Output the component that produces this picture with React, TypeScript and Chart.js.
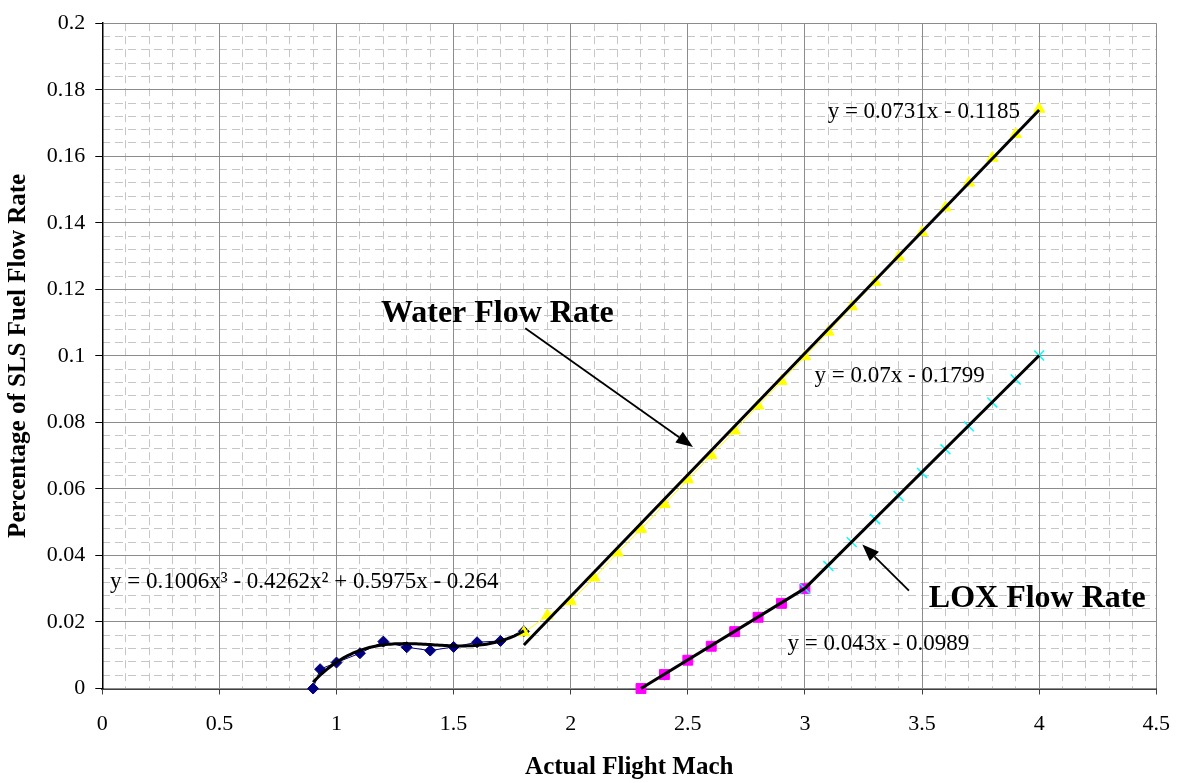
import { useEffect, useRef } from "react";
import { Chart, registerables } from "chart.js";

Chart.register(...registerables);

const FONT = '"Liberation Serif", "Times New Roman", serif';

// Axis tick labels
const xTickLabels = ["0", "0.5", "1", "1.5", "2", "2.5", "3", "3.5", "4", "4.5"];
const yTickLabels = ["0", "0.02", "0.04", "0.06", "0.08", "0.1", "0.12", "0.14", "0.16", "0.18", "0.2"];

// Low-speed fuel flow (Mach 0.9 - 1.8)
const lowMach = [0.9, 0.93, 1.0, 1.1, 1.2, 1.3, 1.4, 1.5, 1.6, 1.7, 1.8];
const lowRate = [0, 0.0058, 0.0078, 0.0106, 0.0141, 0.0124, 0.0114, 0.0125, 0.0139, 0.0143, 0.0172];

// Water flow rate
const waterMach = [1.8, 1.9, 2.0, 2.1, 2.2, 2.3, 2.4, 2.5, 2.6, 2.7, 2.8, 2.9, 3.0, 3.1, 3.2, 3.3, 3.4, 3.5, 3.6, 3.7, 3.8, 3.9, 4.0];
const waterRate = [0.0168, 0.0219, 0.0262, 0.0333, 0.0408, 0.0479, 0.0554, 0.0628, 0.0701, 0.0775, 0.085, 0.0924, 0.0998, 0.1072, 0.1148, 0.1222, 0.1297, 0.1371, 0.1446, 0.152, 0.1595, 0.1666, 0.1742];

// LOX flow rate, lower segment
const loxLowMach = [2.3, 2.4, 2.5, 2.6, 2.7, 2.8, 2.9, 3.0];
const loxLowRate = [0, 0.0042, 0.0085, 0.0127, 0.0171, 0.0214, 0.0256, 0.03];

// LOX flow rate, upper segment
const loxHighMach = [3.0, 3.1, 3.2, 3.3, 3.4, 3.5, 3.6, 3.7, 3.8, 3.9, 4.0];
const loxHighRate = [0.03, 0.0368, 0.044, 0.0509, 0.0579, 0.0648, 0.0719, 0.0788, 0.086, 0.0929, 0.1001];

// Trendline coefficients, highest power first
const lowFit = [0.1006, -0.4262, 0.5975, -0.264];
const waterFit = [0.0731, -0.1185];
const loxLowFit = [0.043, -0.0989];
const loxHighFit = [0.07, -0.1799];

// Trendline equation labels (anchored in data units, left/baseline)
const equationLabels = [
  { text: "y = 0.0731x - 0.1185", x: 3.097, y: 0.1714 },
  { text: "y = 0.07x - 0.1799", x: 3.041, y: 0.092 },
  { text: "y = 0.043x - 0.0989", x: 2.926, y: 0.0115 },
  { text: "y = 0.1006x\u00B3 - 0.4262x\u00B2 + 0.5975x - 0.264", x: 0.033, y: 0.0303 },
];

// Callout titles and their arrows (data units)
const calloutLabels = [
  { text: "Water Flow Rate", x: 1.19, y: 0.1103 },
  { text: "LOX Flow Rate", x: 3.529, y: 0.0246 },
];
const calloutArrows = [
  { from: [1.806, 0.1083], to: [2.522, 0.0726] },
  { from: [3.444, 0.0294], to: [3.245, 0.0433] },
];

const toPoints = (xs: number[], ys: number[]) => xs.map((x, i) => ({ x, y: ys[i] }));

const evalPoly = (coefs: number[], x: number) => coefs.reduce((acc, c) => acc * x + c, 0);

const fitCurve = (coefs: number[], x0: number, x1: number, n: number) => {
  const pts = [];
  for (let i = 0; i <= n; i++) {
    const x = x0 + ((x1 - x0) * i) / n;
    pts.push({ x, y: evalPoly(coefs, x) });
  }
  return pts;
};

const isMultiple = (v: number, step: number) => Math.abs(v / step - Math.round(v / step)) < 1e-6;

const drawArrow = (ctx: CanvasRenderingContext2D, x1: number, y1: number, x2: number, y2: number) => {
  const ang = Math.atan2(y2 - y1, x2 - x1);
  const headLen = 17;
  const headHalf = 6.5;
  const bx = x2 - headLen * Math.cos(ang);
  const by = y2 - headLen * Math.sin(ang);
  ctx.lineWidth = 1.8;
  ctx.beginPath();
  ctx.moveTo(x1, y1);
  ctx.lineTo(bx, by);
  ctx.stroke();
  ctx.beginPath();
  ctx.moveTo(x2, y2);
  ctx.lineTo(bx + headHalf * Math.sin(ang), by - headHalf * Math.cos(ang));
  ctx.lineTo(bx - headHalf * Math.sin(ang), by + headHalf * Math.cos(ang));
  ctx.closePath();
  ctx.fill();
};

const calloutPlugin = {
  id: "callouts",
  afterDatasetsDraw(chart: any) {
    const { ctx } = chart;
    const xs = chart.scales.x;
    const ys = chart.scales.y;
    ctx.save();
    ctx.fillStyle = "#000";
    ctx.strokeStyle = "#000";
    ctx.textAlign = "left";
    ctx.textBaseline = "alphabetic";
    ctx.font = `23px ${FONT}`;
    for (const eq of equationLabels) {
      ctx.fillText(eq.text, xs.getPixelForValue(eq.x), ys.getPixelForValue(eq.y));
    }
    ctx.font = `bold 32px ${FONT}`;
    for (const c of calloutLabels) {
      ctx.fillText(c.text, xs.getPixelForValue(c.x), ys.getPixelForValue(c.y));
    }
    for (const a of calloutArrows) {
      drawArrow(
        ctx,
        xs.getPixelForValue(a.from[0]),
        ys.getPixelForValue(a.from[1]),
        xs.getPixelForValue(a.to[0]),
        ys.getPixelForValue(a.to[1])
      );
    }
    ctx.restore();
  },
};

export default function App() {
  const canvasRef = useRef<HTMLCanvasElement | null>(null);

  useEffect(() => {
    if (!canvasRef.current) return;

    const trend = (data: { x: number; y: number }[]) => ({
      data,
      showLine: true,
      borderColor: "#000",
      borderWidth: 3,
      pointRadius: 0,
      tension: 0,
      order: 0,
      clip: false as const,
      xAxisID: "x",
      yAxisID: "y",
    });

    const series = (
      data: { x: number; y: number }[],
      color: string,
      pointStyle: string,
      radius: number,
      order: number,
      borderWidth = 1
    ) => ({
      data,
      showLine: true,
      borderColor: color,
      backgroundColor: color,
      borderWidth: 1,
      pointStyle,
      pointRadius: radius,
      pointBorderWidth: borderWidth,
      pointBackgroundColor: color,
      pointBorderColor: color,
      order,
      clip: false as const,
      xAxisID: "x",
      yAxisID: "y",
    });

    const chart = new Chart(canvasRef.current, {
      type: "scatter",
      data: {
        datasets: [
          trend(fitCurve(lowFit, lowMach[0], lowMach[lowMach.length - 1], 90)),
          trend(fitCurve(waterFit, waterMach[0], waterMach[waterMach.length - 1], 1)),
          trend(fitCurve(loxLowFit, loxLowMach[0], loxLowMach[loxLowMach.length - 1], 1)),
          trend(fitCurve(loxHighFit, loxHighMach[0], loxHighMach[loxHighMach.length - 1], 1)),
          series(toPoints(waterMach, waterRate), "#ffff00", "triangle", 6.5, 1),
          series(toPoints(loxHighMach, loxHighRate), "#00ffff", "crossRot", 7, 1, 1.5),
          series(toPoints(loxLowMach, loxLowRate), "#ff00ff", "rect", 7, 2),
          series(toPoints(lowMach, lowRate), "#000080", "rectRot", 5.5, 3),
        ] as any,
      },
      options: {
        animation: false,
        responsive: false,
        devicePixelRatio: 1,
        layout: { padding: { top: 17.5, right: 27, left: 0, bottom: 0 } },
        plugins: {
          legend: { display: false },
          tooltip: { enabled: false },
        },
        scales: {
          x: {
            type: "linear",
            position: "bottom",
            min: 0,
            max: 4.5,
            ticks: {
              stepSize: 0.5,
              padding: 17,
              color: "#000",
              font: { family: FONT, size: 22 },
              callback: (_v: any, i: number) => xTickLabels[i],
            },
            grid: { color: "#8c8c8c", lineWidth: 1, tickLength: 6, tickColor: "#404040", z: 0 },
            border: { color: "#404040", width: 2 },
            title: {
              display: true,
              text: "Actual Flight Mach",
              color: "#000",
              font: { family: FONT, size: 25, weight: "bold" },
              padding: { top: 0, bottom: 0 },
            },
            afterFit: (s: any) => {
              s.height = 94.5;
            },
          },
          y: {
            type: "linear",
            position: "left",
            min: 0,
            max: 0.2,
            ticks: {
              stepSize: 0.02,
              padding: 10,
              color: "#000",
              font: { family: FONT, size: 22 },
              callback: (_v: any, i: number) => yTickLabels[i],
            },
            grid: { color: "#8c8c8c", lineWidth: 1, tickLength: 7, tickColor: "#000", z: 0 },
            border: { color: "#000", width: 1.5 },
            title: {
              display: true,
              text: "Percentage of SLS Fuel Flow Rate",
              color: "#000",
              font: { family: FONT, size: 25, weight: "bold" },
              padding: { top: 3.5, bottom: 0 },
            },
            afterFit: (s: any) => {
              s.width = 102.3;
            },
          },
          xm: {
            type: "linear",
            position: "bottom",
            min: 0,
            max: 4.5,
            ticks: { display: false, stepSize: 0.1 },
            grid: {
              drawTicks: false,
              z: -1,
              color: (c: any) => (c.tick && isMultiple(c.tick.value, 0.5) ? "rgba(0,0,0,0)" : "#c6c6c6"),
            },
            border: { display: false, dash: [8, 5] },
            afterFit: (s: any) => {
              s.height = 0;
            },
          },
          ym: {
            type: "linear",
            position: "left",
            min: 0,
            max: 0.2,
            ticks: { display: false, stepSize: 0.004 },
            grid: {
              drawTicks: false,
              z: -1,
              color: (c: any) => (c.tick && isMultiple(c.tick.value, 0.02) ? "rgba(0,0,0,0)" : "#c6c6c6"),
            },
            border: { display: false, dash: [8, 5] },
            afterFit: (s: any) => {
              s.width = 0;
            },
          },
        } as any,
      },
      plugins: [calloutPlugin],
    });

    return () => chart.destroy();
  }, []);

  return (
    <div style={{ position: "fixed", left: 0, top: 0, width: 1187, height: 783, background: "#fff" }}>
      <canvas ref={canvasRef} width={1187} height={783} style={{ display: "block" }} />
    </div>
  );
}
